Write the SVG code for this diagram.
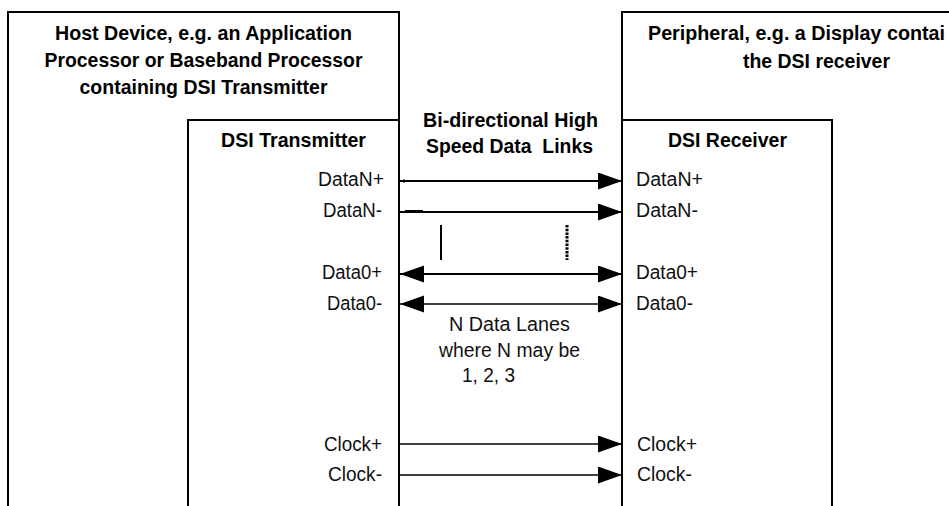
<svg xmlns="http://www.w3.org/2000/svg" width="949" height="506" viewBox="0 0 949 506">
<style>
.box{fill:none;stroke:#000;stroke-width:2}
.title{font-family:"Liberation Sans",Arial,sans-serif;font-weight:bold;font-size:19.5px;fill:#000}
.lbl{font-family:"Liberation Sans",Arial,sans-serif;font-size:19.5px;fill:#111}
.data{stroke:#000;stroke-width:2;fill:none}
.clk{stroke:#000;stroke-width:1.4;fill:none}
</style>
<defs>
<marker id="ah" markerUnits="userSpaceOnUse" markerWidth="25" markerHeight="18" refX="24" refY="8.5" orient="auto-start-reverse" viewBox="0 0 25 18">
<path d="M0,0 L24,8.5 L0,17 Z" fill="#000"/>
</marker>
</defs>
<rect width="949" height="506" fill="#fff"/>
<g id="host">
<rect class="box" x="8" y="12" width="391" height="520"/>
<text class="title" x="203.5" y="40" text-anchor="middle" textLength="297" lengthAdjust="spacingAndGlyphs">Host Device, e.g. an Application</text>
<text class="title" x="203.5" y="67" text-anchor="middle" textLength="318" lengthAdjust="spacingAndGlyphs">Processor or Baseband Processor</text>
<text class="title" x="203.5" y="94" text-anchor="middle" textLength="248" lengthAdjust="spacingAndGlyphs">containing DSI Transmitter</text>
</g>
<g id="transmitter">
<rect class="box" x="188" y="120" width="211" height="420" fill="#fff"/>
<text class="title" x="293.5" y="147" text-anchor="middle" textLength="145" lengthAdjust="spacingAndGlyphs">DSI Transmitter</text>
<text class="lbl" x="384" y="186" text-anchor="end" textLength="66" lengthAdjust="spacingAndGlyphs">DataN+</text>
<text class="lbl" x="382" y="217" text-anchor="end" textLength="59" lengthAdjust="spacingAndGlyphs">DataN-</text>
<text class="lbl" x="382" y="279" text-anchor="end" textLength="60" lengthAdjust="spacingAndGlyphs">Data0+</text>
<text class="lbl" x="382" y="310" text-anchor="end" textLength="55" lengthAdjust="spacingAndGlyphs">Data0-</text>
<text class="lbl" x="382" y="451" text-anchor="end" textLength="58" lengthAdjust="spacingAndGlyphs">Clock+</text>
<text class="lbl" x="382" y="481" text-anchor="end" textLength="54" lengthAdjust="spacingAndGlyphs">Clock-</text>
</g>
<g id="peripheral">
<rect class="box" x="622" y="12" width="400" height="520"/>
<text class="title" x="648" y="40" textLength="297" lengthAdjust="spacingAndGlyphs">Peripheral, e.g. a Display contai</text>
<text class="title" x="816.5" y="68" text-anchor="middle" textLength="147" lengthAdjust="spacingAndGlyphs">the DSI receiver</text>
</g>
<g id="receiver">
<rect class="box" x="622" y="120" width="210" height="420"/>
<text class="title" x="727.5" y="147" text-anchor="middle" textLength="119" lengthAdjust="spacingAndGlyphs">DSI Receiver</text>
<text class="lbl" x="636" y="186" textLength="67" lengthAdjust="spacingAndGlyphs">DataN+</text>
<text class="lbl" x="636" y="217" textLength="62" lengthAdjust="spacingAndGlyphs">DataN-</text>
<text class="lbl" x="636" y="279" textLength="62" lengthAdjust="spacingAndGlyphs">Data0+</text>
<text class="lbl" x="636" y="310" textLength="57" lengthAdjust="spacingAndGlyphs">Data0-</text>
<text class="lbl" x="637" y="451" textLength="60" lengthAdjust="spacingAndGlyphs">Clock+</text>
<text class="lbl" x="637" y="481" textLength="55" lengthAdjust="spacingAndGlyphs">Clock-</text>
</g>
<g id="link-labels">
<text class="title" x="510.5" y="127" text-anchor="middle" textLength="175" lengthAdjust="spacingAndGlyphs">Bi-directional High</text>
<text class="title" x="509.5" y="153" text-anchor="middle" textLength="167" lengthAdjust="spacingAndGlyphs" xml:space="preserve">Speed Data  Links</text>
<text class="lbl" x="509.5" y="331" text-anchor="middle" textLength="121" lengthAdjust="spacingAndGlyphs">N Data Lanes</text>
<text class="lbl" x="509.5" y="357" text-anchor="middle" textLength="141" lengthAdjust="spacingAndGlyphs">where N may be</text>
<text class="lbl" x="462" y="382" textLength="53" lengthAdjust="spacingAndGlyphs">1, 2, 3</text>
</g>
<g id="connectors">
<line class="data" x1="400" y1="181" x2="622" y2="181" marker-end="url(#ah)"/>
<line x1="404" y1="179" x2="404" y2="183" stroke="#000" stroke-width="1"/>
<line class="data" x1="400" y1="212" x2="622" y2="212" marker-end="url(#ah)"/>
<line x1="405" y1="211.5" x2="423" y2="211.5" stroke="#000" stroke-width="3"/>
<line class="data" x1="400" y1="274" x2="622" y2="274" marker-start="url(#ah)" marker-end="url(#ah)"/>
<line class="clk" x1="400" y1="304" x2="622" y2="304" marker-start="url(#ah)" marker-end="url(#ah)"/>
<line class="clk" x1="400" y1="444" x2="622" y2="444" marker-end="url(#ah)"/>
<line class="clk" x1="400" y1="475" x2="622" y2="475" marker-end="url(#ah)"/>
<line x1="441" y1="225" x2="441" y2="260" stroke="#000" stroke-width="2"/>
<line x1="567" y1="225" x2="567" y2="260" stroke="#000" stroke-width="3" stroke-dasharray="2.5 1.2"/>
</g>
</svg>
